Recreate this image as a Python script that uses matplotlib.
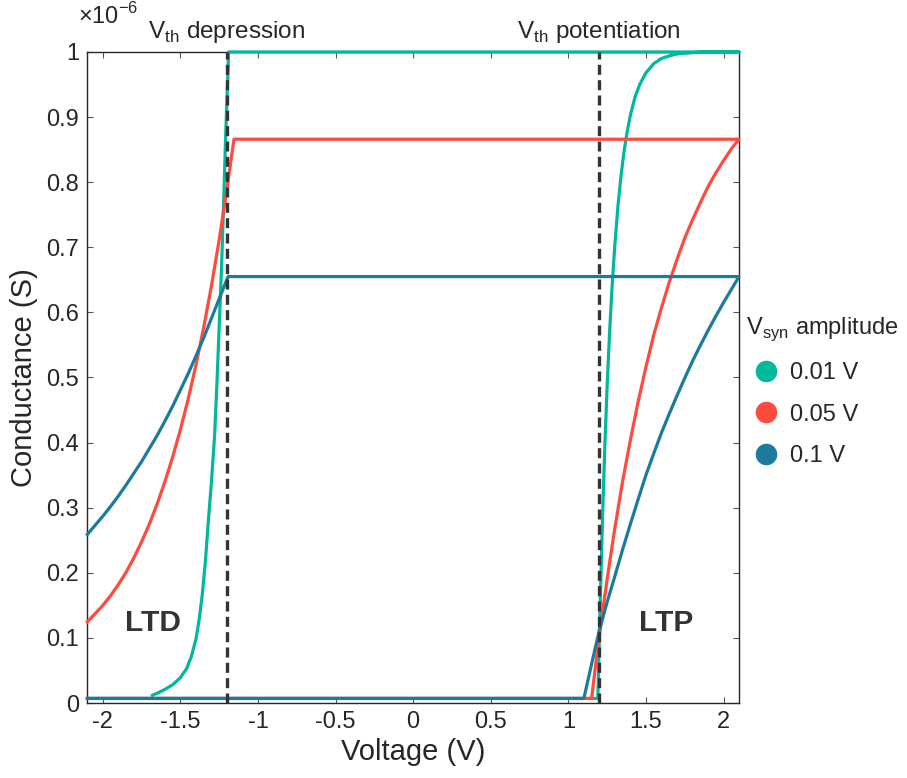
import matplotlib
matplotlib.use("Agg")
import matplotlib.pyplot as plt
from matplotlib.lines import Line2D

plt.rcParams['font.family'] = ['Liberation Sans', 'DejaVu Sans']
plt.rcParams['mathtext.fontset'] = 'custom'
plt.rcParams['mathtext.rm'] = 'Liberation Sans'

# ---------------- data (conductance in units of 1e-6 S) ----------------
labels = ["0.01 V", "0.05 V", "0.1 V"]
colors = ["#00b89b", "#ff4a3d", "#1c7b9c"]

baseline = 0.007
x_min, x_max = -2.1, 2.1

# LTP (rising) branches
green_up_v = [1.19, 1.195, 1.20, 1.21, 1.22, 1.235, 1.25, 1.265, 1.28, 1.30, 1.32, 1.34, 1.36,
              1.38, 1.40, 1.43, 1.46, 1.50, 1.55, 1.60, 1.65, 1.70, 1.80, 1.90, 2.00, 2.10]
green_up_g = [0.007, 0.054, 0.105, 0.195, 0.283, 0.393, 0.487, 0.565, 0.632, 0.705, 0.764, 0.811, 0.849,
              0.879, 0.903, 0.931, 0.950, 0.968, 0.982, 0.990, 0.994, 0.997, 0.999, 1.0, 1.0, 1.0]
red_up_v = [1.15, 1.175, 1.20, 1.225, 1.25, 1.275, 1.30, 1.35, 1.40, 1.45, 1.50, 1.55, 1.60,
            1.65, 1.70, 1.75, 1.80, 1.85, 1.90, 1.95, 2.00, 2.05, 2.10]
red_up_g = [0.007, 0.057, 0.103, 0.148, 0.19, 0.23, 0.269, 0.341, 0.404, 0.463, 0.516, 0.565, 0.607,
            0.646, 0.681, 0.714, 0.742, 0.768, 0.793, 0.814, 0.833, 0.851, 0.866]
blue_up_v = [1.10, 1.15, 1.20, 1.25, 1.30, 1.35, 1.40, 1.45, 1.50, 1.55, 1.60, 1.65, 1.70,
             1.75, 1.80, 1.85, 1.90, 1.95, 2.00, 2.05, 2.10]
blue_up_g = [0.007, 0.06, 0.112, 0.155, 0.195, 0.236, 0.275, 0.313, 0.35, 0.383, 0.415, 0.444, 0.472,
             0.499, 0.525, 0.549, 0.572, 0.594, 0.615, 0.635, 0.655]

# saturation levels (upper plateau)
g_max = [1.0, 0.866, 0.655]

# LTD (decaying) branches, from the plateau corner outwards
green_dn_v = [-1.19, -1.195, -1.20, -1.21, -1.22, -1.235, -1.25, -1.265, -1.28, -1.30, -1.32, -1.34,
              -1.36, -1.38, -1.40, -1.43, -1.46, -1.50, -1.55, -1.60, -1.64, -1.68]
green_dn_g = [1.0, 0.96, 0.93, 0.86, 0.78, 0.67, 0.58, 0.49, 0.41, 0.34, 0.28, 0.215,
              0.165, 0.127, 0.098, 0.071, 0.053, 0.039, 0.028, 0.021, 0.016, 0.012]
red_dn_v = [-1.155, -1.20, -1.25, -1.30, -1.35, -1.40, -1.45, -1.50, -1.55, -1.60, -1.65, -1.70,
            -1.75, -1.80, -1.85, -1.90, -1.95, -2.00, -2.05, -2.10]
red_dn_g = [0.866, 0.79, 0.712, 0.641, 0.577, 0.519, 0.467, 0.42, 0.378, 0.34, 0.306, 0.275,
            0.248, 0.223, 0.201, 0.182, 0.165, 0.15, 0.137, 0.125]
blue_dn_v = [-1.193, -1.25, -1.30, -1.35, -1.40, -1.45, -1.50, -1.55, -1.60, -1.65, -1.70, -1.75,
             -1.80, -1.85, -1.90, -1.95, -2.00, -2.05, -2.10]
blue_dn_g = [0.655, 0.621, 0.591, 0.561, 0.533, 0.506, 0.481, 0.456, 0.433, 0.411, 0.391, 0.371,
             0.353, 0.335, 0.318, 0.302, 0.287, 0.273, 0.259]

v_th = [-1.2, 1.2]
xticks = [-2, -1.5, -1, -0.5, 0, 0.5, 1, 1.5, 2]
xticklabels = ["-2", "-1.5", "-1", "-0.5", "0", "0.5", "1", "1.5", "2"]
yticks = [0, 0.1, 0.2, 0.3, 0.4, 0.5, 0.6, 0.7, 0.8, 0.9, 1.0]
yticklabels = ["0", "0.1", "0.2", "0.3", "0.4", "0.5", "0.6", "0.7", "0.8", "0.9", "1"]

ups = [(green_up_v, green_up_g), (red_up_v, red_up_g), (blue_up_v, blue_up_g)]
dns = [(green_dn_v, green_dn_g), (red_dn_v, red_dn_g), (blue_dn_v, blue_dn_g)]

# ---------------- figure ----------------
fig = plt.figure(figsize=(9.07, 7.78), dpi=100)
ax = fig.add_axes([0.0963, 0.0964, 0.7185, 0.8368])

text_c = "#262626"
for (uv, ug), (dv, dg), gm, c in zip(ups, dns, g_max, colors):
    # lower baseline, rising branch, plateau, decaying branch
    xs = [x_min] + uv + [dv[0]] + dv
    ys = [baseline] + ug + [gm] + dg
    ax.plot(xs, ys, color=c, lw=2.3, solid_joinstyle='round', clip_on=False, zorder=3)

for v in v_th:
    ax.axvline(v, color="#333333", lw=2.4, ls=(0, (3.0, 1.6)), zorder=4)

ax.set_xlim(x_min, x_max)
ax.set_ylim(0, 1.0)
ax.set_xticks(xticks)
ax.set_xticklabels(xticklabels)
ax.set_yticks(yticks)
ax.set_yticklabels(yticklabels)
ax.tick_params(direction='in', length=4.5, width=0.8, colors="#555555",
               labelcolor=text_c, labelsize=17, top=True, right=True, pad=6)
for s in ax.spines.values():
    s.set_color("#262626")
    s.set_linewidth(1.0)

ax.set_xlabel("Voltage (V)", fontsize=21, color=text_c, labelpad=3)
ax.set_ylabel("Conductance (S)", fontsize=21, color=text_c, labelpad=6)

ax.text(x_min - 0.06, 1.035, r"$\times$10$^{\mathregular{-6}}$", transform=ax.transData,
        fontsize=17, color=text_c, ha='left', va='bottom')
ax.text(v_th[0], 1.01, r"V$_{\mathregular{th}}$ depression", fontsize=17.5, color=text_c,
        ha='center', va='bottom')
ax.text(v_th[1], 1.01, r"V$_{\mathregular{th}}$ potentiation", fontsize=17.5, color=text_c,
        ha='center', va='bottom')

ax.text(-1.68, 0.123, "LTD", fontsize=21.5, fontweight='bold', color="#333333", ha='center', va='center')
ax.text(1.63, 0.123, "LTP", fontsize=21.5, fontweight='bold', color="#333333", ha='center', va='center')

handles = [Line2D([], [], ls='none', marker='o', markersize=14.5, color=c) for c in colors]
leg = fig.legend(handles, labels, title=r"V$_{\mathregular{syn}}$ amplitude",
                 loc='upper left', bbox_to_anchor=(0.812, 0.607), frameon=False,
                 fontsize=17, title_fontsize=17, handlelength=1.7, handletextpad=0.15,
                 labelspacing=0.82, borderaxespad=0)
leg._legend_box.align = "left"
for t in leg.get_texts():
    t.set_color(text_c)
leg.get_title().set_color(text_c)

fig.savefig("out.png", dpi=100)
